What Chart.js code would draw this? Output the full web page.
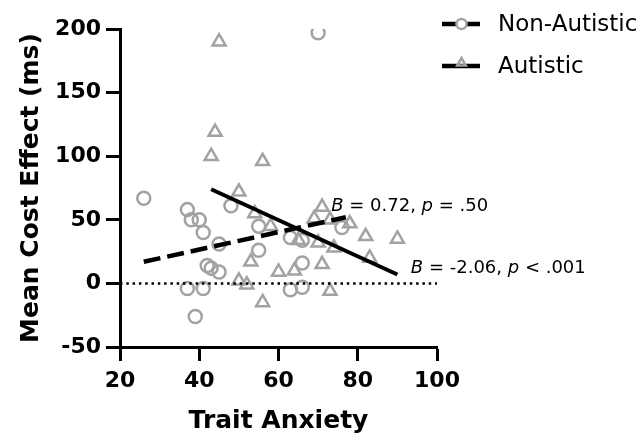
<!DOCTYPE html>
<html>
<head>
<meta charset="utf-8">
<script src="https://cdn.jsdelivr.net/npm/chart.js@4.4.1/dist/chart.umd.min.js"></script>
<style>
html, body { margin: 0; padding: 0; background: #fff; }
</style>
</head>
<body>
<canvas id="grap1" width="640" height="436"></canvas>
<script>
// data
var nonAutX = [26, 37, 38, 40, 41, 45, 42, 43, 45, 37, 41, 39, 48, 55, 55, 63, 66, 66, 63, 66, 76, 70];
var nonAutY = [67, 58, 50, 50, 40, 31, 14, 12, 9, -4, -4, -26, 61, 45, 26, 36, 34, 16, -5, -3, 44, 197];
var autX = [45, 44, 43, 56, 50, 54, 58, 71, 69, 73, 78, 82, 90, 65, 70, 74, 83, 53, 60, 64, 71, 50, 52, 56, 73];
var autY = [190, 119, 100, 96, 72, 55, 45, 60, 51, 50, 47, 37, 35, 34, 32, 28, 20, 17, 9, 10, 15, 2, -1, -15, -6];
// regression line end points
var nonAutFitX = [26, 77];
var nonAutFitY = [17, 52];
var autFitX = [43, 90];
var autFitY = [74, 7];
var zeroX = [20, 100];
var zeroY = [0, 0];
var seriesNames = ["Non-Autistic", "Autistic"];
var statText = [["B", " = 0.72, ", "p", " = .50"], ["B", " = -2.06, ", "p", " < .001"]];

var gray = "#a2a2a2";

function pts(xs, ys) {
    return xs.map(function (x, i) { return { x: x, y: ys[i] }; });
}

// stats text next to the fit lines
var statsPlugin = {
    id: "stats",
    afterDatasetsDraw: function (chart) {
        var c = chart.ctx;
        var sx = chart.scales.x, sy = chart.scales.y;
        var anchors = [[73.3, 57], [93.4, 8.4]];
        c.save();
        c.fillStyle = "#000";
        c.textBaseline = "alphabetic";
        statText.forEach(function (parts, i) {
            var x = sx.getPixelForValue(anchors[i][0]);
            var y = sy.getPixelForValue(anchors[i][1]);
            parts.forEach(function (t, j) {
                c.font = (j % 2 === 0 ? "italic " : "") + "18px 'DejaVu Sans', sans-serif";
                c.fillText(t, x, y);
                x += c.measureText(t).width;
            });
        });
        c.restore();
    }
};

// legend in the top right corner
var legendPlugin = {
    id: "customLegend",
    afterDraw: function (chart) {
        var c = chart.ctx;
        c.save();
        var rows = [24, 66];
        rows.forEach(function (y, i) {
            c.strokeStyle = "#000";
            c.lineWidth = 4.5;
            c.beginPath();
            if (i === 0) {
                c.moveTo(442, y); c.lineTo(456, y);
                c.moveTo(467, y); c.lineTo(480, y);
            } else {
                c.moveTo(442, y); c.lineTo(480, y);
            }
            c.stroke();
            c.strokeStyle = gray;
            c.fillStyle = "#fff";
            c.lineWidth = 2.5;
            if (i === 0) {
                Chart.helpers.drawPoint(c, { pointStyle: "circle", radius: 5, rotation: 0, borderWidth: 2.5 }, 461.5, y);
            } else {
                c.fillStyle = "rgba(0,0,0,0)";
                Chart.helpers.drawPoint(c, { pointStyle: "triangle", radius: 5, rotation: 0, borderWidth: 2.5 }, 461.5, y - 3);
            }
            c.fillStyle = "#000";
            c.font = "23px 'DejaVu Sans', sans-serif";
            c.textBaseline = "middle";
            c.fillText(seriesNames[i], 498, y + 1);
        });
        c.restore();
    }
};

var ctx = document.getElementById("grap1").getContext("2d");
var myChart = new Chart(ctx, {
    type: "scatter",
    data: {
        datasets: [
            {
                label: "Non-Autistic fit",
                type: "line",
                data: pts(nonAutFitX, nonAutFitY),
                borderColor: "#000",
                borderWidth: 4.5,
                borderDash: [17, 7],
                pointRadius: 0,
                fill: false
            },
            {
                label: "Autistic fit",
                type: "line",
                data: pts(autFitX, autFitY),
                borderColor: "#000",
                borderWidth: 4,
                pointRadius: 0,
                fill: false
            },
            {
                label: "zero",
                type: "line",
                data: pts(zeroX, zeroY),
                borderColor: "#000",
                borderWidth: 2.5,
                borderDash: [2.5, 3.8],
                pointRadius: 0,
                fill: false
            },
            {
                label: seriesNames[0],
                data: pts(nonAutX, nonAutY),
                pointStyle: "circle",
                pointRadius: 6.5,
                borderWidth: 2.5,
                borderColor: gray,
                backgroundColor: "transparent"
            },
            {
                label: seriesNames[1],
                data: pts(autX, autY),
                pointStyle: "triangle",
                pointRadius: 7.5,
                borderWidth: 2.5,
                borderColor: gray,
                backgroundColor: "transparent"
            }
        ]
    },
    options: {
        responsive: false,
        animation: false,
        layout: { padding: { top: 29, right: 203, left: 16, bottom: 0 } },
        plugins: {
            legend: { display: false },
            tooltip: { enabled: false }
        },
        scales: {
            x: {
                type: "linear",
                min: 20,
                max: 100,
                ticks: {
                    stepSize: 20,
                    color: "#000",
                    padding: 7,
                    font: { family: "'DejaVu Sans'", size: 22, weight: "bold" }
                },
                grid: { drawOnChartArea: false, drawTicks: true, tickLength: 14, tickWidth: 3, tickColor: "#000" },
                border: { color: "#000", width: 3 },
                title: {
                    display: true,
                    text: "Trait Anxiety",
                    color: "#000",
                    padding: { top: 0, bottom: 0 },
                    font: { family: "'DejaVu Sans'", size: 25, weight: "bold" }
                },
                afterFit: function (scale) { scale.height = 89; }
            },
            y: {
                type: "linear",
                min: -50,
                max: 200,
                ticks: {
                    stepSize: 50,
                    color: "#000",
                    padding: 5,
                    font: { family: "'DejaVu Sans'", size: 22, weight: "bold" }
                },
                grid: { drawOnChartArea: false, drawTicks: true, tickLength: 14, tickWidth: 3, tickColor: "#000" },
                border: { color: "#000", width: 3 },
                title: {
                    display: true,
                    text: "Mean Cost Effect (ms)",
                    color: "#000",
                    padding: { top: 0, bottom: 4 },
                    font: { family: "'DejaVu Sans'", size: 25, weight: "bold" }
                },
                afterFit: function (scale) { scale.width = 104; }
            }
        }
    },
    plugins: [statsPlugin, legendPlugin]
});
</script>
</body>
</html>
